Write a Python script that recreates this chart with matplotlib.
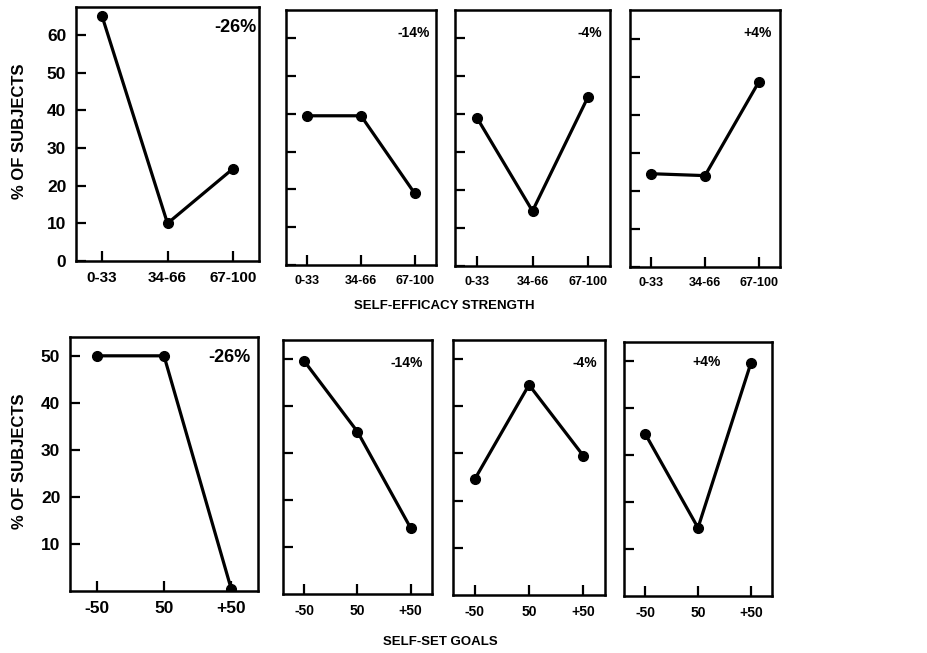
import matplotlib
matplotlib.use("Agg")
import matplotlib.pyplot as plt

plt.rcParams["font.family"] = ["Liberation Sans", "DejaVu Sans"]
plt.rcParams["font.weight"] = "bold"

# --- data -----------------------------------------------------------------
efficacy_cats = ["0-33", "34-66", "67-100"]
goal_cats = ["-50", "50", "+50"]
change_labels = ["-26%", "-14%", "-4%", "+4%"]

efficacy_pct = [
    [65, 10, 24.5],
    [39.5, 39.5, 19],
    [39, 14.5, 44.5],
    [24.5, 24, 48.5],
]
goals_pct = [
    [50, 50, 0.5],
    [49.5, 34.5, 14],
    [24.5, 44.5, 29.5],
    [34.5, 14.5, 49.5],
]

efficacy_ticks = [0, 10, 20, 30, 40, 50, 60]
goal_ticks = [10, 20, 30, 40, 50]

# panel boxes in pixels (left, right, top, bottom) of the 928x653 canvas
W, H = 928, 653
top_boxes = [(76, 259, 7, 261), (286, 436, 10, 265),
             (455, 610, 10, 266), (630, 780, 10, 267)]
bot_boxes = [(70, 258, 337, 591), (283, 432, 340, 594),
             (453, 605, 340, 595), (624, 772, 342, 596)]
top_note_pos = [(0.87, 0.92), (0.85, 0.91), (0.87, 0.91), (0.85, 0.91)]
bot_note_pos = [(0.85, 0.92), (0.83, 0.91), (0.87, 0.91), (0.56, 0.92)]
# the first panel of each row was drawn at a larger scale in the original
top_xfont = [11, 9, 9, 9]
bot_xfont = [12.5, 10, 10, 10]
note_font = [13, 10, 10, 10]


def add_ax(fig, box):
    l, r, t, b = box
    return fig.add_axes([l / W, 1 - b / H, (r - l) / W, (b - t) / H])


def draw_panel(ax, cats, vals, yticks, ylim, first, note, note_xy, xfont, nfont):
    x = list(range(len(cats)))
    ax.plot(x, vals, "-", color="black", lw=2.3, solid_capstyle="butt")
    ax.plot(x, vals, "o", color="black", ms=7)
    ax.set_xlim(-0.4, 2.4)
    ax.set_ylim(*ylim)
    ax.set_xticks(x)
    ax.set_xticklabels(cats)
    ax.set_yticks(yticks)
    if not first:
        ax.set_yticklabels([])
    ax.tick_params(direction="in", length=7, width=1.6, pad=7, colors="black")
    ax.tick_params(axis="x", labelsize=xfont)
    ax.tick_params(axis="y", labelsize=12.5)
    for s in ax.spines.values():
        s.set_linewidth(1.8)
    ax.text(note_xy[0], note_xy[1], note, transform=ax.transAxes,
            ha="center", va="center", fontsize=nfont, fontweight="bold")


fig = plt.figure(figsize=(W / 100, H / 100), dpi=100)

for i, box in enumerate(top_boxes):
    ax = add_ax(fig, box)
    draw_panel(ax, efficacy_cats, efficacy_pct[i], efficacy_ticks, (0, 67.5),
               i == 0, change_labels[i], top_note_pos[i], top_xfont[i], note_font[i])

for i, box in enumerate(bot_boxes):
    ax = add_ax(fig, box)
    draw_panel(ax, goal_cats, goals_pct[i], goal_ticks, (0, 54),
               i == 0, change_labels[i], bot_note_pos[i], bot_xfont[i], note_font[i])

fig.text(20 / W, 1 - 131 / H, "% OF SUBJECTS", rotation=90,
         ha="center", va="center", fontsize=12, fontweight="bold")
fig.text(20 / W, 1 - 461 / H, "% OF SUBJECTS", rotation=90,
         ha="center", va="center", fontsize=12, fontweight="bold")
fig.text(444 / W, 1 - 306 / H, "SELF-EFFICACY STRENGTH",
         ha="center", va="center", fontsize=9.5, fontweight="bold")
fig.text(440 / W, 1 - 642 / H, "SELF-SET GOALS",
         ha="center", va="center", fontsize=9.5, fontweight="bold")

fig.savefig("out.png", dpi=100, facecolor="white")
